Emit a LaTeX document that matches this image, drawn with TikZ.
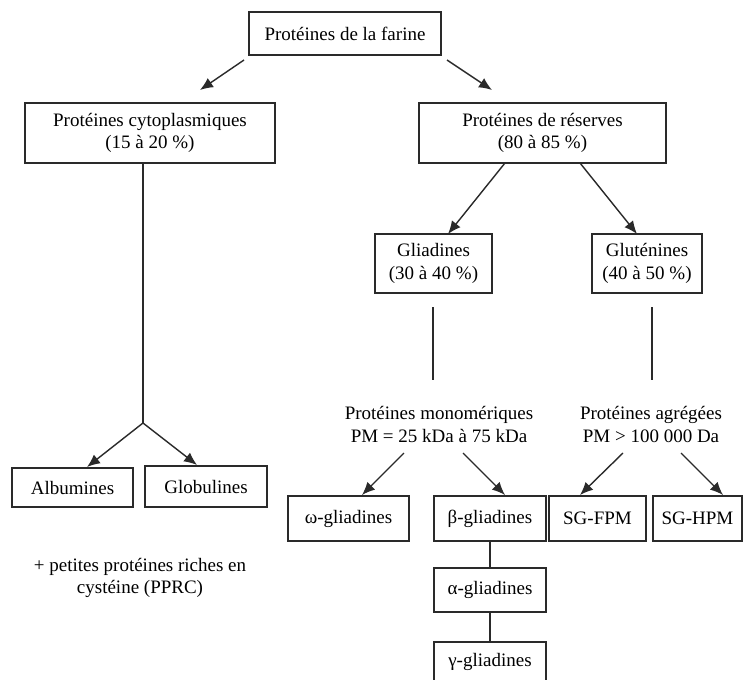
\documentclass[tikz,border=0pt]{standalone}
\usepackage{fontspec}
\setmainfont{Liberation Serif}
\usetikzlibrary{arrows.meta}
\definecolor{ink}{HTML}{2A2A2A}
\tikzset{
  txt/.style={font=\fontsize{19}{22.5}\selectfont, align=center, inner sep=0pt, text=black},
  box/.style={txt, draw=ink, line width=1.5pt},
  conn/.style={draw=ink, line width=1.4pt},
  arr/.style={conn, -{Latex[length=13pt,width=11pt]}}
}
\begin{document}
\begin{tikzpicture}[x=1pt,y=-1pt]
\clip (0,0) rectangle (745,680);
\fill[white] (0,0) rectangle (745,680);

% boxes
\node[box, minimum width=192pt, minimum height=43pt] (top) at (345,33.5) {Protéines de la farine};
\node[box, minimum width=250pt, minimum height=60pt] (cyto) at (150,133) {Protéines cytoplasmiques\\(15 à 20 \%)};
\node[box, minimum width=247pt, minimum height=60pt] (res) at (542.5,133) {Protéines de réserves\\(80 à 85 \%)};
\node[box, minimum width=117pt, minimum height=59pt] (glia) at (433.5,263.5) {Gliadines\\(30 à 40 \%)};
\node[box, minimum width=110pt, minimum height=59pt] (glut) at (647,263.5) {Gluténines\\(40 à 50 \%)};
\node[box, minimum width=121pt, minimum height=39pt] (alb) at (72.5,487.5) {Albumines};
\node[box, minimum width=122pt, minimum height=41pt] (glob) at (206,486.5) {Globulines};
\node[box, minimum width=121pt, minimum height=45pt] (omega) at (348.5,518.5) {ω-gliadines};
\node[box, minimum width=112pt, minimum height=45pt] (beta) at (490,518.5) {β-gliadines};
\node[box, minimum width=97pt, minimum height=45pt] (fpm) at (597.5,518.5) {SG-FPM};
\node[box, minimum width=89pt, minimum height=45pt] (hpm) at (697.5,518.5) {SG-HPM};
\node[box, minimum width=112pt, minimum height=44pt] (alpha) at (490,590) {α-gliadines};
\node[box, minimum width=112pt, minimum height=40pt] (gamma) at (490,662) {γ-gliadines};

% free texts
\node[txt] (mono) at (439,424.5) {Protéines monomériques\\PM = 25 kDa à 75 kDa};
\node[txt] (agg) at (651,424.5) {Protéines agrégées\\PM > 100 000 Da};
\node[txt] (pprc) at (140,578) {+ petites protéines riches en\\cystéine (PPRC)};

% coordinates
\coordinate (t1) at (244,60);  \coordinate (c1) at (200,90);
\coordinate (t2) at (447,60);  \coordinate (r1) at (492,90);
\coordinate (r2) at (505,163); \coordinate (g1) at (448,234);
\coordinate (r3) at (580,163); \coordinate (g2) at (637,234);
\coordinate (j) at (143,423);
\coordinate (albtip) at (87,467);
\coordinate (globtip) at (197,465);
\coordinate (gl1) at (433,307); \coordinate (gl2) at (433,380);
\coordinate (gt1) at (652,307); \coordinate (gt2) at (652,380);
\coordinate (m1) at (404,453); \coordinate (o1) at (362,495);
\coordinate (m2) at (463,453); \coordinate (b1) at (505,495);
\coordinate (a1) at (623,453); \coordinate (f1) at (580,495);
\coordinate (a2) at (681,453); \coordinate (h1) at (723,495);

% connectors
\draw[arr] (t1) -- (c1);
\draw[arr] (t2) -- (r1);
\draw[arr] (r2) -- (g1);
\draw[arr] (r3) -- (g2);
\draw[conn] (cyto.south -| j) -- (j);
\draw[arr] (j) -- (albtip);
\draw[arr] (j) -- (globtip);
\draw[conn] (gl1) -- (gl2);
\draw[conn] (gt1) -- (gt2);
\draw[arr] (m1) -- (o1);
\draw[arr] (m2) -- (b1);
\draw[arr] (a1) -- (f1);
\draw[arr] (a2) -- (h1);
\draw[conn] (beta.south) -- (alpha.north);
\draw[conn] (alpha.south) -- (gamma.north);
\end{tikzpicture}
\end{document}
